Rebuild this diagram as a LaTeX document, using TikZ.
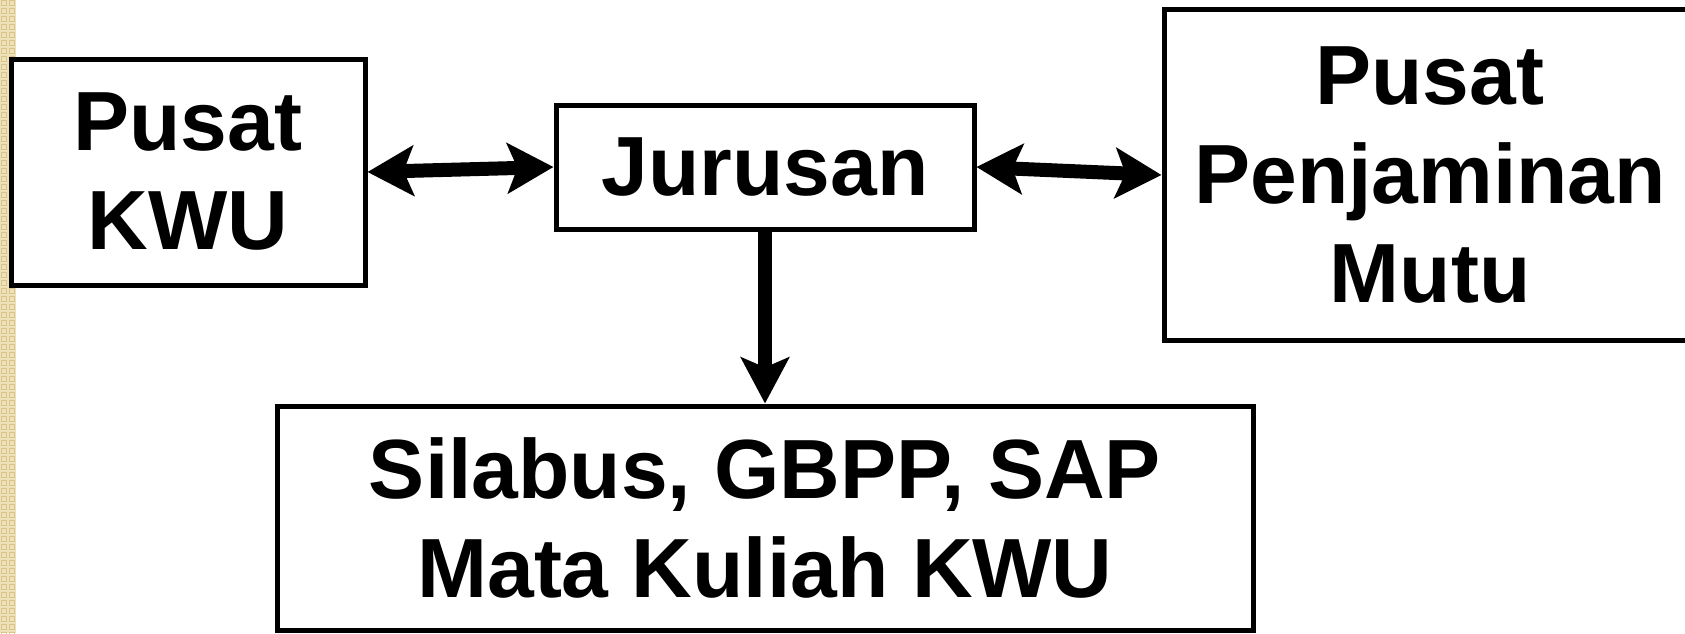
\documentclass[tikz,border=0pt]{standalone}
\usepackage{fontspec}
\setmainfont{Liberation Sans}
\usetikzlibrary{arrows.meta}
\definecolor{strip}{RGB}{240,226,184}
\definecolor{stripdark}{RGB}{216,196,140}
\tikzset{
  box/.style={draw, line width=2.5pt, fill=white, align=center, inner sep=0pt,
    font=\fontsize{42}{49.5}\selectfont\bfseries},
  tip/.style={Stealth[length=23pt,width=25pt,inset=5pt]},
  link/.style={line width=7pt, {Stealth[length=23pt,width=25pt,inset=5pt]}-{Stealth[length=23pt,width=25pt,inset=5pt]}},
  down/.style={line width=7pt, -{Stealth[length=23pt,width=24pt,inset=5pt]}}
}
\begin{document}
\begin{tikzpicture}[x=0.5pt,y=-0.5pt]
  \useasboundingbox (0,0) rectangle (1685,633);
  \clip (0,0) rectangle (1685,633);
  \fill[strip] (0,0) rectangle (16,633);
  \foreach \y in {0,8,...,632}
    \draw[stripdark, line width=0.4pt] (1.5,\y) rectangle (6.5,\y+5) (9.5,\y) rectangle (14.5,\y+5);
  %\draw[help lines] (0,0) grid (1685,633);
  \node[box, minimum width=177pt, minimum height=113pt] (kwu) at (188,172) {Pusat\\KWU};
  \node[box, minimum width=209pt, minimum height=62pt] (jur) at (765,167) {Jurusan};
  \node[box, minimum width=266pt, minimum height=165.5pt] (pjm) at (1430,175) {Pusat\\Penjaminan\\Mutu};
  \node[box, minimum width=488pt, minimum height=112pt] (sil) at (765,518) {Silabus, GBPP, SAP\\Mata Kuliah KWU};

  \draw[link] (kwu.east) -- (jur.west);
  \draw[link] (jur.east) -- (pjm.west);
  \draw[down] (jur.south) -- (sil.north);
\end{tikzpicture}
\end{document}
